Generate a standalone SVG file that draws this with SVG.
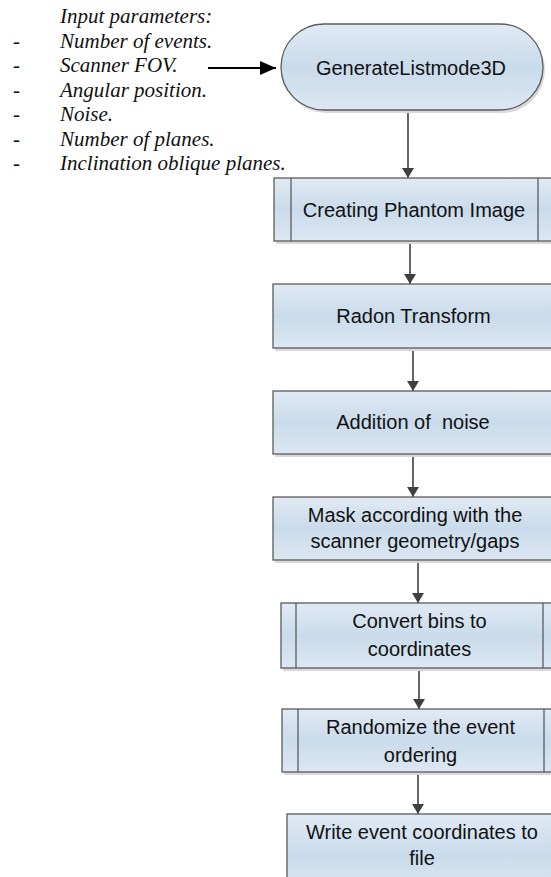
<svg xmlns="http://www.w3.org/2000/svg" width="551" height="877" viewBox="0 0 551 877">
  <defs>
    <linearGradient id="fillBlue" x1="0" y1="0" x2="0" y2="1">
      <stop offset="0" stop-color="#e1eaf4"/>
      <stop offset="0.5" stop-color="#c9dbeb"/>
      <stop offset="1" stop-color="#dce7f2"/>
    </linearGradient>
    <marker id="headGray" viewBox="0 0 10 12" refX="10" refY="6" markerWidth="10" markerHeight="12" markerUnits="userSpaceOnUse" orient="auto">
      <path d="M0,0 L10,6 L0,12 Z" fill="#404040"/>
    </marker>
    <marker id="headBlack" viewBox="0 0 16 14" refX="16" refY="7" markerWidth="16" markerHeight="14" markerUnits="userSpaceOnUse" orient="auto">
      <path d="M0,0 L16,7 L0,14 Z" fill="#000"/>
    </marker>
  </defs>
  <style>
    .box { fill: url(#fillBlue); stroke: #5b5b5b; stroke-width: 1.3; }
    .shadow { fill: #d9d9d9; }
    .bar { stroke: #5b5b5b; stroke-width: 1.3; fill: none; }
    .lbl { font-family: "Liberation Sans", Arial, sans-serif; font-size: 20px; fill: #111; text-anchor: middle; white-space: pre; }
    .param { font-family: "Liberation Serif", "Times New Roman", serif; font-style: italic; font-size: 21px; fill: #111; }
    .dash { font-family: "Liberation Serif", "Times New Roman", serif; font-size: 21px; fill: #111; }
    .conn { stroke: #404040; stroke-width: 1.6; fill: none; marker-end: url(#headGray); }
  </style>

  <!-- input parameter list -->
  <g id="params">
    <text class="param" x="60" y="23">Input parameters:</text>
    <text class="dash" x="13" y="47.5">-</text>
    <text class="param" x="60" y="47.5">Number of events.</text>
    <text class="dash" x="13" y="72">-</text>
    <text class="param" x="60" y="72">Scanner FOV.</text>
    <text class="dash" x="13" y="96.5">-</text>
    <text class="param" x="60" y="96.5">Angular position.</text>
    <text class="dash" x="13" y="121">-</text>
    <text class="param" x="60" y="121">Noise.</text>
    <text class="dash" x="13" y="145.5">-</text>
    <text class="param" x="60" y="145.5">Number of planes.</text>
    <text class="dash" x="13" y="170">-</text>
    <text class="param" x="60" y="170">Inclination oblique planes.</text>
  </g>

  <!-- connectors -->
  <g id="connectors">
    <line x1="208" y1="68" x2="276" y2="68" stroke="#000" stroke-width="2" marker-end="url(#headBlack)"/>
    <line class="conn" x1="408" y1="110" x2="408" y2="178"/>
    <line class="conn" x1="410" y1="241" x2="410" y2="284"/>
    <line class="conn" x1="413" y1="348" x2="413" y2="391"/>
    <line class="conn" x1="413" y1="454" x2="413" y2="497"/>
    <line class="conn" x1="418" y1="560" x2="418" y2="603"/>
    <line class="conn" x1="419" y1="668" x2="419" y2="709"/>
    <line class="conn" x1="418" y1="772" x2="418" y2="814"/>
  </g>

  <!-- start terminator -->
  <g id="start">
    <rect class="shadow" x="283" y="27" width="262" height="86" rx="43"/>
    <rect class="box" x="281" y="24" width="262" height="86" rx="43"/>
    <text class="lbl" x="411" y="75">GenerateListmode3D</text>
  </g>

  <!-- predefined process -->
  <g id="phantom">
    <rect class="shadow" x="276" y="181" width="281" height="63"/>
    <rect class="box" x="274" y="178" width="281" height="63"/>
    <line class="bar" x1="291" y1="178" x2="291" y2="241"/>
    <line class="bar" x1="538" y1="178" x2="538" y2="241"/>
    <text class="lbl" x="414" y="217">Creating Phantom Image</text>
  </g>

  <g id="radon">
    <rect class="shadow" x="275" y="287" width="281" height="64"/>
    <rect class="box" x="273" y="284" width="281" height="64"/>
    <text class="lbl" x="413.5" y="323">Radon Transform</text>
  </g>

  <g id="noise">
    <rect class="shadow" x="275" y="394" width="281" height="63"/>
    <rect class="box" x="273" y="391" width="281" height="63"/>
    <text class="lbl" x="413" y="429">Addition of  noise</text>
  </g>

  <g id="mask">
    <rect class="shadow" x="275" y="500" width="284" height="63"/>
    <rect class="box" x="273" y="497" width="284" height="63"/>
    <text class="lbl" x="415" y="522">Mask according with the</text>
    <text class="lbl" x="415" y="548">scanner geometry/gaps</text>
  </g>

  <g id="convert">
    <rect class="shadow" x="283" y="606" width="277" height="65"/>
    <rect class="box" x="281" y="603" width="277" height="65"/>
    <line class="bar" x1="296" y1="603" x2="296" y2="668"/>
    <line class="bar" x1="543" y1="603" x2="543" y2="668"/>
    <text class="lbl" x="419.5" y="628">Convert bins to</text>
    <text class="lbl" x="419.5" y="656">coordinates</text>
  </g>

  <g id="randomize">
    <rect class="shadow" x="284" y="712" width="278" height="63"/>
    <rect class="box" x="282" y="709" width="278" height="63"/>
    <line class="bar" x1="298" y1="709" x2="298" y2="772"/>
    <line class="bar" x1="544" y1="709" x2="544" y2="772"/>
    <text class="lbl" x="420.5" y="734">Randomize the event</text>
    <text class="lbl" x="420.5" y="762">ordering</text>
  </g>

  <g id="write">
    <rect class="box" x="287" y="814" width="270" height="80"/>
    <text class="lbl" x="422" y="839">Write event coordinates to</text>
    <text class="lbl" x="422" y="865">file</text>
  </g>
</svg>
